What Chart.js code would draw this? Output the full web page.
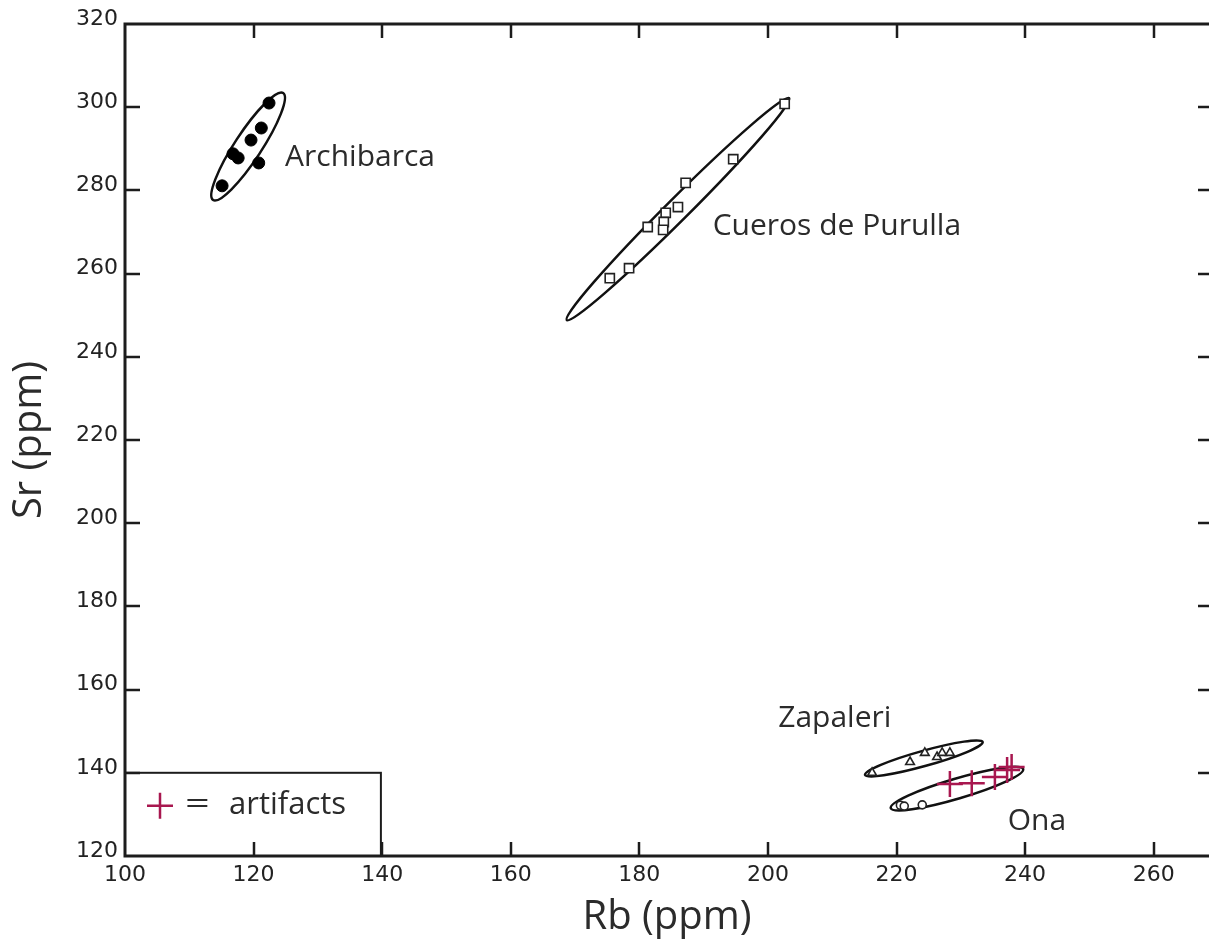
<!DOCTYPE html>
<html lang="en">
<head>
<meta charset="UTF-8">
<title>Rb vs Sr (ppm)</title>
<script src="https://cdn.jsdelivr.net/npm/chart.js"></script>
<style>
  html, body { margin: 0; padding: 0; background: #fff; overflow: hidden; }
  canvas { display: block; }
</style>
</head>
<body>
<canvas id="rbsr" width="1209" height="944"></canvas>
<script>
// source samples (Rb ppm, Sr ppm)
const archibarcaRb = [122.4, 121.2, 119.6, 116.8, 117.6, 120.8, 115.1];
const archibarcaSr = [301.0, 295.0, 292.1, 288.8, 287.8, 286.6, 281.1];

const cuerosRb = [202.6, 194.6, 187.2, 186.0, 184.1, 183.8, 183.7, 181.3, 178.4, 175.4];
const cuerosSr = [300.8, 287.5, 281.8, 276.0, 274.6, 272.4, 270.5, 271.2, 261.3, 258.9];

const zapaleriRb = [216.2, 222.1, 224.4, 226.3, 227.1, 228.3];
const zapaleriSr = [140.0, 142.6, 144.8, 143.8, 144.8, 144.8];

const onaRb = [220.6, 221.2, 224.0];
const onaSr = [132.2, 132.0, 132.3];

const artifactRb = [228.3, 231.7, 235.3, 237.2, 237.9];
const artifactSr = [137.3, 137.5, 139.0, 140.7, 141.4];

// group ellipses: major axis end points in data units, minor/major ratio
const ellipseFromRb = [113.7, 168.7, 215.1, 219.1];
const ellipseFromSr = [277.7, 248.8, 139.5, 131.5];
const ellipseToRb = [124.6, 203.3, 233.4, 239.7];
const ellipseToSr = [303.4, 302.2, 147.4, 140.9];
const ellipseRatio = [0.21, 0.07, 0.125, 0.145];

// group names, at their text baseline start
const groupNames = ['Archibarca', 'Cueros de Purulla', 'Zapaleri', 'Ona'];
const groupNameRb = [124.9, 191.4, 201.6, 237.3];
const groupNameSr = [285.9, 269.3, 151.0, 126.3];

// key box corners
const keyRb = [100, 139.8];
const keySr = [120, 140];

const xMin = 100, xMax = 268.6, yMin = 120, yMax = 320;

const ink = '#1c1c1c';
const crimson = '#a8174f';
const labelFont = '"Open Sans", sans-serif';

function pts(xs, ys) {
    return xs.map((v, i) => ({ x: v, y: ys[i] }));
}

const decorations = {
    id: 'decorations',
    beforeDatasetsDraw(chart) {
        const { ctx, chartArea: a, scales: { x, y } } = chart;
        ctx.save();

        // frame: left, top, bottom
        ctx.strokeStyle = ink;
        ctx.lineWidth = 3;
        ctx.beginPath();
        ctx.moveTo(a.right, a.top);
        ctx.lineTo(a.left, a.top);
        ctx.lineTo(a.left, a.bottom);
        ctx.lineTo(a.right, a.bottom);
        ctx.stroke();

        // inward tick marks
        ctx.lineWidth = 2.5;
        ctx.beginPath();
        x.ticks.forEach(t => {
            if (t.value <= xMin) return;
            const px = Math.round(x.getPixelForValue(t.value));
            ctx.moveTo(px, a.bottom); ctx.lineTo(px, a.bottom - 14);
            ctx.moveTo(px, a.top); ctx.lineTo(px, a.top + 14);
        });
        y.ticks.forEach(t => {
            if (t.value <= yMin || t.value >= yMax) return;
            const py = Math.round(y.getPixelForValue(t.value));
            ctx.moveTo(a.left, py); ctx.lineTo(a.left + 15, py);
            ctx.moveTo(a.right, py); ctx.lineTo(a.right - 11, py);
        });
        ctx.stroke();

        // key box
        const bx0 = x.getPixelForValue(keyRb[0]), bx1 = x.getPixelForValue(keyRb[1]);
        const by0 = y.getPixelForValue(keySr[1]), by1 = y.getPixelForValue(keySr[0]);
        ctx.lineWidth = 2;
        ctx.strokeRect(bx0, by0, bx1 - bx0, by1 - by0);
        ctx.strokeStyle = crimson;
        ctx.lineWidth = 2.5;
        ctx.beginPath();
        ctx.moveTo(bx0 + 22, by0 + 33); ctx.lineTo(bx0 + 48, by0 + 33);
        ctx.moveTo(bx0 + 35, by0 + 20); ctx.lineTo(bx0 + 35, by0 + 46);
        ctx.stroke();
        ctx.fillStyle = '#2b2b2b';
        ctx.font = '31px ' + labelFont;
        ctx.textBaseline = 'alphabetic';
        ctx.textAlign = 'left';
        ctx.save();
        ctx.translate(bx0 + 60, by0 + 41);
        ctx.scale(1.4, 1);
        ctx.fillText('=', 0, 0);
        ctx.restore();
        ctx.fillText('artifacts', bx0 + 104, by0 + 41);

        // group ellipses
        ctx.strokeStyle = '#111';
        ctx.lineWidth = 2.5;
        for (let i = 0; i < ellipseFromRb.length; i++) {
            const x1 = x.getPixelForValue(ellipseFromRb[i]), y1 = y.getPixelForValue(ellipseFromSr[i]);
            const x2 = x.getPixelForValue(ellipseToRb[i]), y2 = y.getPixelForValue(ellipseToSr[i]);
            const half = Math.hypot(x2 - x1, y2 - y1) / 2;
            ctx.beginPath();
            ctx.ellipse((x1 + x2) / 2, (y1 + y2) / 2, half, half * ellipseRatio[i],
                Math.atan2(y2 - y1, x2 - x1), 0, Math.PI * 2);
            ctx.stroke();
        }

        // group names
        ctx.fillStyle = '#2b2b2b';
        ctx.font = '30px ' + labelFont;
        groupNames.forEach((n, i) => {
            ctx.fillText(n, x.getPixelForValue(groupNameRb[i]), y.getPixelForValue(groupNameSr[i]));
        });
        ctx.restore();
    }
};

const tickFont = { family: '"DejaVu Sans", sans-serif', size: 22 };
const titleFont = { family: labelFont, size: 40 };

new Chart(document.getElementById('rbsr'), {
    type: 'scatter',
    data: {
        datasets: [
            { label: 'Archibarca', data: pts(archibarcaRb, archibarcaSr),
              pointStyle: 'circle', pointRadius: 6, backgroundColor: '#000', borderColor: '#000', borderWidth: 1 },
            { label: 'Cueros de Purulla', data: pts(cuerosRb, cuerosSr),
              pointStyle: 'rect', pointRadius: 6.5, backgroundColor: '#fff', borderColor: '#222', borderWidth: 1.6 },
            { label: 'Zapaleri', data: pts(zapaleriRb, zapaleriSr),
              pointStyle: 'triangle', pointRadius: 5, backgroundColor: '#fff', borderColor: '#222', borderWidth: 1.6 },
            { label: 'Ona', data: pts(onaRb, onaSr),
              pointStyle: 'circle', pointRadius: 4, backgroundColor: '#fff', borderColor: '#222', borderWidth: 1.6 },
            { label: 'artifacts', data: pts(artifactRb, artifactSr),
              pointStyle: 'cross', pointRadius: 13, borderColor: crimson, borderWidth: 2.5 }
        ]
    },
    options: {
        responsive: false,
        animation: false,
        events: [],
        layout: { autoPadding: false, padding: { top: 24, right: 0, bottom: 0, left: 0 } },
        plugins: {
            legend: { display: false },
            tooltip: { enabled: false }
        },
        scales: {
            x: {
                type: 'linear', min: xMin, max: xMax,
                grid: { display: false, drawTicks: false },
                border: { display: false },
                ticks: { stepSize: 20, includeBounds: false, padding: 6, color: '#222', font: tickFont },
                title: { display: true, text: 'Rb (ppm)', color: '#2b2b2b', font: titleFont, padding: { top: 0, bottom: 2 } },
                afterFit(s) { s.height = 88; }
            },
            y: {
                type: 'linear', min: yMin, max: yMax,
                grid: { display: false, drawTicks: false },
                border: { display: false },
                ticks: { stepSize: 20, includeBounds: false, padding: 7, labelOffset: -5, color: '#222', font: tickFont },
                title: { display: true, text: 'Sr (ppm)', color: '#2b2b2b', font: titleFont, padding: { top: 6, bottom: 0 } },
                afterFit(s) { s.width = 125; }
            }
        }
    },
    plugins: [decorations]
});
</script>
</body>
</html>
